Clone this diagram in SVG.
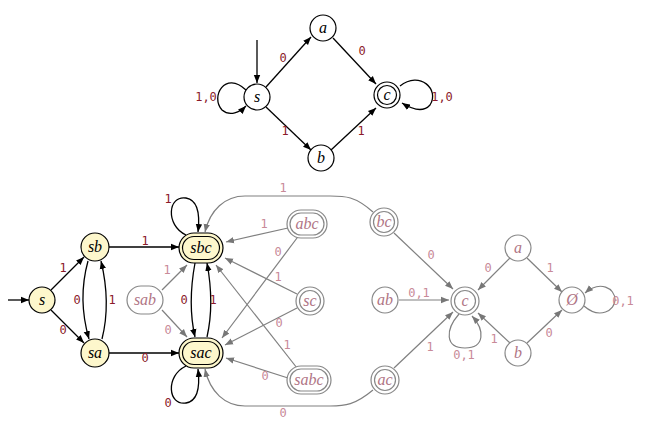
<svg xmlns="http://www.w3.org/2000/svg" width="650" height="430" viewBox="0 0 650 430">
<defs>
<marker id="ab" viewBox="0 0 10 10" refX="10" refY="5" markerWidth="8" markerHeight="8" orient="auto-start-reverse" markerUnits="userSpaceOnUse"><path d="M0,1 L10,5 L0,9 z" fill="#000"/></marker>
<marker id="ag" viewBox="0 0 10 10" refX="10" refY="5" markerWidth="8" markerHeight="8" orient="auto-start-reverse" markerUnits="userSpaceOnUse"><path d="M0,1 L10,5 L0,9 z" fill="#777"/></marker>
<style>
.n{fill:#fff;stroke:#000;stroke-width:1.2}
.y{fill:#fdf7cc;stroke:#000;stroke-width:1.2}
.g{fill:#fff;stroke:#888;stroke-width:1.2}
.t{font-family:"Liberation Serif",serif;font-style:italic;font-size:16px;text-anchor:middle;fill:#000}
.tg{font-family:"Liberation Serif",serif;font-style:italic;font-size:16px;text-anchor:middle;fill:#b07585}
.e{fill:none;stroke:#000;stroke-width:1.3;marker-end:url(#ab)}
.eg{fill:none;stroke:#808080;stroke-width:1.2;marker-end:url(#ag)}
.l{font-family:"DejaVu Sans Mono",monospace;font-size:12px;text-anchor:middle;fill:#8b1a2a}
.lg{font-family:"DejaVu Sans Mono",monospace;font-size:12px;text-anchor:middle;fill:#c88a98}
</style>
</defs>
<g id="connectors">
<path class="e" d="M257,40 L257,83"/>
<path class="e" d="M246,90 C225,70 210,97 222,110 C230,117 240,112 246,106"/>
<path class="e" d="M266,87 L311,37"/>
<path class="e" d="M333,38 L376,84"/>
<path class="e" d="M266,107 L311,150"/>
<path class="e" d="M331,150 L376,108"/>
<path class="e" d="M400,86 C420,70 440,90 430,105 C422,114 410,108 402,103"/>
<text class="l" x="283" y="62">0</text><text class="l" x="362" y="55">0</text>
<text class="l" x="285" y="135">1</text><text class="l" x="361" y="135">1</text>
<text class="l" x="206" y="101">1,0</text><text class="l" x="442" y="101">1,0</text>

<path class="e" d="M8,300 L29,300"/>
<path class="e" d="M51,290 L84,257"/>
<path class="e" d="M51,310 L84,343"/>
<path class="e" d="M88,261 C80,290 82,315 89,339"/>
<path class="e" d="M102,339 C108,315 108,290 101,261"/>
<path class="e" d="M109,247 L179,247"/>
<path class="e" d="M109,353 L179,353"/>
<path class="e" d="M195,263 C190,290 190,315 195,337"/>
<path class="e" d="M207,337 C212,315 212,290 207,263"/>
<path class="e" d="M186,235 C165,225 168,195 186,198 C198,200 200,215 198,232"/>
<path class="e" d="M186,366 C165,376 168,406 186,403 C198,401 200,386 198,369"/>
<text class="l" x="168" y="203">1</text><text class="l" x="168" y="407">0</text>
<text class="l" x="63" y="272">1</text><text class="l" x="63" y="334">0</text>
<text class="l" x="77" y="304">0</text><text class="l" x="112" y="304">1</text>
<text class="l" x="145" y="245">1</text><text class="l" x="145" y="362">0</text>
<text class="l" x="184" y="304">0</text><text class="l" x="213" y="304">1</text>

<path class="eg" d="M373,212 C355,196 345,196 330,196 L245,196 C225,196 210,210 205,232"/>
<path class="eg" d="M288,228 L226,242"/>
<path class="eg" d="M300,234 L222,338"/>
<path class="eg" d="M162,290 L187,265"/>
<path class="eg" d="M162,310 L187,337"/>
<path class="eg" d="M297,294 L225,258"/>
<path class="eg" d="M297,308 L225,345"/>
<path class="eg" d="M297,368 L216,265"/>
<path class="eg" d="M288,378 L226,358"/>
<path class="eg" d="M373,390 C355,405 345,406 330,406 L245,406 C225,406 210,392 205,369"/>
<text class="lg" x="264" y="228">1</text><text class="lg" x="278" y="256">0</text>
<text class="lg" x="167" y="274">1</text><text class="lg" x="168" y="334">0</text>
<text class="lg" x="278" y="281">1</text><text class="lg" x="279" y="327">0</text>
<text class="lg" x="287" y="349">1</text><text class="lg" x="265" y="380">0</text>
<text class="lg" x="283" y="192">1</text><text class="lg" x="283" y="417">0</text>

<path class="eg" d="M394,233 L453,289"/>
<path class="eg" d="M399,300 L449,300"/>
<path class="eg" d="M394,368 L453,312"/>
<path class="eg" d="M459,314 C445,330 445,348 465,348 C485,348 485,330 472,316"/>
<path class="eg" d="M510,258 L478,290"/>
<path class="eg" d="M527,258 L562,292"/>
<path class="eg" d="M510,343 L478,313"/>
<path class="eg" d="M527,343 L562,310"/>
<path class="eg" d="M584,306 C600,320 615,310 615,300 C615,288 600,280 585,293"/>
<text class="lg" x="431" y="259">0</text><text class="lg" x="419" y="297">0,1</text>
<text class="lg" x="430" y="351">1</text><text class="lg" x="464" y="359">0,1</text>
<text class="lg" x="488" y="272">0</text><text class="lg" x="550" y="272">1</text>
<text class="lg" x="494" y="343">1</text><text class="lg" x="549" y="337">0</text>
<text class="lg" x="623" y="305">0,1</text>
</g>

<g id="top-s"><circle class="n" cx="257" cy="97" r="13"/><text class="t" x="257" y="102">s</text></g>
<g id="top-a"><circle class="n" cx="323" cy="28" r="13"/><text class="t" x="323" y="33">a</text></g>
<g id="top-b"><circle class="n" cx="321" cy="158" r="13"/><text class="t" x="321" y="163">b</text></g>
<g id="top-c"><circle class="n" cx="387" cy="95" r="13"/><circle class="n" cx="387" cy="95" r="9.5"/><text class="t" x="387" y="100">c</text></g>

<g id="s"><circle class="y" cx="42" cy="300" r="13"/><text class="t" x="42" y="305">s</text></g>
<g id="sb"><circle class="y" cx="95" cy="247" r="14"/><text class="t" x="95" y="252">sb</text></g>
<g id="sa"><circle class="y" cx="95" cy="353" r="14"/><text class="t" x="95" y="358">sa</text></g>
<g id="sbc"><rect class="y" x="179" y="233" width="44" height="30" rx="15"/><rect class="y" x="182.5" y="236.5" width="37" height="23" rx="11.5"/><text class="t" x="201" y="253">sbc</text></g>
<g id="sac"><rect class="y" x="179" y="338" width="44" height="30" rx="15"/><rect class="y" x="182.5" y="341.5" width="37" height="23" rx="11.5"/><text class="t" x="201" y="358">sac</text></g>
<g id="sab"><rect class="g" x="127" y="286" width="36" height="28" rx="14"/><text class="tg" x="145" y="305">sab</text></g>
<g id="abc"><rect class="g" x="287" y="210" width="40" height="28" rx="14"/><rect class="g" x="290" y="213" width="34" height="22" rx="11"/><text class="tg" x="307" y="229">abc</text></g>
<g id="sc"><circle class="g" cx="310" cy="301" r="14"/><circle class="g" cx="310" cy="301" r="10.5"/><text class="tg" x="310" y="306">sc</text></g>
<g id="sabc"><rect class="g" x="287" y="366" width="44" height="28" rx="14"/><rect class="g" x="290" y="369" width="38" height="22" rx="11"/><text class="tg" x="309" y="385">sabc</text></g>
<g id="bc"><circle class="g" cx="384" cy="222" r="14"/><circle class="g" cx="384" cy="222" r="10.5"/><text class="tg" x="384" y="227">bc</text></g>
<g id="ab"><circle class="g" cx="385" cy="300" r="13"/><text class="tg" x="385" y="305">ab</text></g>
<g id="ac"><circle class="g" cx="385" cy="380" r="14"/><circle class="g" cx="385" cy="380" r="10.5"/><text class="tg" x="385" y="385">ac</text></g>
<g id="c"><circle class="g" cx="465" cy="301" r="14"/><circle class="g" cx="465" cy="301" r="10.5"/><text class="tg" x="465" y="306">c</text></g>
<g id="a"><circle class="g" cx="518" cy="248" r="13"/><text class="tg" x="518" y="253">a</text></g>
<g id="b"><circle class="g" cx="518" cy="353" r="13"/><text class="tg" x="518" y="358">b</text></g>
<g id="empty"><circle class="g" cx="572" cy="300" r="13"/><text class="tg" x="572" y="305">Ø</text></g>
</svg>
